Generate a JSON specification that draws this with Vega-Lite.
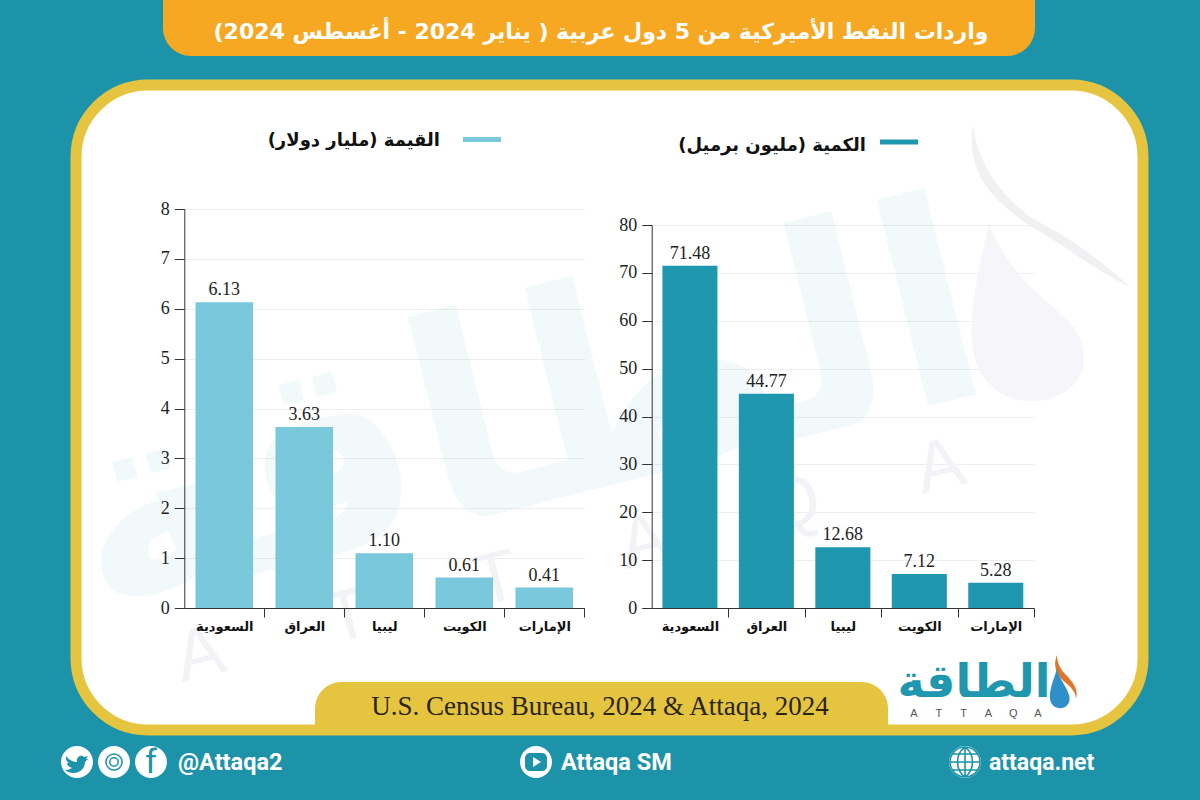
{
"$schema":"https://vega.github.io/schema/vega-lite/v6.json",
"autosize":{"type":"none"},
"width":1067,"height":645,
"padding":{"left":76,"top":85,"right":57,"bottom":70},
"background":"#1D93A9",
"view":{"fill":"#ffffff","stroke":"#E5C440","strokeWidth":11,"cornerRadius":72},
"config":{"view":{"fill":"#ffffff","stroke":"#E5C440","strokeWidth":11,"cornerRadius":72}},
"resolve":{"scale":{"x":"independent","y":"independent","color":"independent","shape":"independent"},"axis":{"x":"independent","y":"independent"}},
"layer":[
{"data":{"values":[{"id":"t"}]},
 "mark":{"type":"rect","width":872,"height":56,"fill":"#F7A823","cornerRadiusBottomLeft":28,"cornerRadiusBottomRight":28},
 "encoding":{"x":{"field":"id","type":"nominal","axis":null,"scale":{"type":"point","domain":["t"],"range":[523,523]}},
 "y":{"field":"id","type":"nominal","axis":null,"scale":{"type":"point","domain":["t"],"range":[-57,-57]}}}},
{"data":{"values":[{"chartTitle":"واردات النفط الأميركية من 5 دول عربية ( يناير 2024 - أغسطس 2024)‏"}]},
 "mark":{"type":"text","font":"DejaVu Sans","fontWeight":"bold","fontSize":22,"color":"#ffffff","align":"center","baseline":"middle"},
 "encoding":{"text":{"field":"chartTitle"},"x":{"field":"chartTitle","type":"nominal","axis":null,"scale":{"range":[525,525]}},
 "y":{"field":"chartTitle","type":"nominal","axis":null,"scale":{"range":[-53,-53]}}}},
{"data":{"values":[{"word":"الطاقة"}]},
 "mark":{"type":"text","font":"DejaVu Sans","fontWeight":"bold","fontSize":280,"angle":-14,"color":"#1D93A9","opacity":0.05,"align":"center","baseline":"middle"},
 "encoding":{"text":{"field":"word"},"x":{"field":"word","type":"nominal","axis":null,"scale":{"domain":["الطاقة"],"range":[450,450]}},
 "y":{"field":"word","type":"nominal","axis":null,"scale":{"domain":["الطاقة"],"range":[335,335]}}}},
{"data":{"values":[{"id":"a1","letter":"A"},{"id":"t1","letter":"T"},{"id":"t2","letter":"T"},{"id":"a2","letter":"A"},{"id":"q","letter":"Q"},{"id":"a3","letter":"A"}]},
 "mark":{"type":"text","font":"Liberation Sans","fontSize":72,"angle":-14,"color":"#f2f3f6","align":"center","baseline":"middle"},
 "encoding":{"text":{"field":"letter"},"x":{"field":"id","type":"nominal","axis":null,"scale":{"domain":["a1","t1","t2","a2","q","a3"],"padding":0,"range":[124,864]}},
 "y":{"field":"id","type":"nominal","axis":null,"scale":{"domain":["a1","t1","t2","a2","q","a3"],"padding":0,"range":[570,382]}}}},
{"data":{"values":[{"id":"swoosh"}]},
 "mark":{"type":"point","filled":true,"size":4,"strokeWidth":0,"color":"#f1f1f4","opacity":1,"shape":"M-62,-90 C-70,-40 -40,-10 10,20 C40,38 60,55 95,72 C60,40 30,20 0,5 C-30,-15 -58,-50 -62,-90 Z"},
 "encoding":{"x":{"field":"id","type":"nominal","axis":null,"scale":{"domain":["swoosh"],"range":[959,959]}},
 "y":{"field":"id","type":"nominal","axis":null,"scale":{"domain":["swoosh"],"range":[130,130]}}}},
{"data":{"values":[{"id":"drop"}]},
 "mark":{"type":"point","filled":true,"size":4,"strokeWidth":0,"color":"#f5f5fa","opacity":1,"shape":"M-42,-100 C-56,-40 -66,10 -54,40 C-42,75 0,86 30,70 C62,53 60,15 30,-10 C0,-35 -27,-60 -42,-100 Z"},
 "encoding":{"x":{"field":"id","type":"nominal","axis":null,"scale":{"domain":["drop"],"range":[955,955]}},
 "y":{"field":"id","type":"nominal","axis":null,"scale":{"domain":["drop"],"range":[239,239]}}}},
{"data":{"values":[{"series":"القيمة"},{"series":"الكمية"}]},
 "mark":{"type":"rect","width":38,"height":5},
 "encoding":{"x":{"field":"series","type":"nominal","axis":null,"scale":{"type":"point","padding":0,"domain":["القيمة","الكمية"],"range":[406,823]}},
 "y":{"field":"series","type":"nominal","axis":null,"scale":{"type":"point","padding":0,"domain":["القيمة","الكمية"],"range":[54.5,57]}},
 "color":{"field":"series","type":"nominal","legend":null,"scale":{"domain":["القيمة","الكمية"],"range":["#79C8DB","#1F97AE"]}}}},
{"data":{"values":[{"series":"القيمة","label":"القيمة (مليار دولار)‏"},{"series":"الكمية","label":"الكمية (مليون برميل)‏"}]},
 "mark":{"type":"text","font":"DejaVu Sans","fontWeight":"bold","fontSize":18,"color":"#111111","align":"right","baseline":"middle"},
 "encoding":{"text":{"field":"label"},"x":{"field":"series","type":"nominal","axis":null,"scale":{"padding":0,"domain":["القيمة","الكمية"],"range":[364,790]}},
 "y":{"field":"series","type":"nominal","axis":null,"scale":{"padding":0,"domain":["القيمة","الكمية"],"range":[56,61]}}}},
{"data":{"values":[{"country":"السعودية","value":6.13},{"country":"العراق","value":3.63},{"country":"ليبيا","value":1.10},{"country":"الكويت","value":0.61},{"country":"الإمارات","value":0.41}]},
 "mark":{"type":"bar","fillOpacity":0},
 "encoding":{
  "x":{"field":"country","type":"nominal","sort":null,"axis":null,"scale":{"type":"band","domain":["السعودية","العراق","ليبيا","الكويت","الإمارات"],"range":[108.3,508.3]}},
  "y":{"field":"value","type":"quantitative","title":null,"scale":{"domain":[0,8],"range":[523,124],"nice":false},
   "axis":{"orient":"left","zindex":0,"values":[0,1,2,3,4,5,6,7,8],"labels":false,"ticks":false,"domain":false,"grid":true,"gridColor":"#eeeeee"}}}},
{"data":{"values":[{"country":"السعودية","value":71.48},{"country":"العراق","value":44.77},{"country":"ليبيا","value":12.68},{"country":"الكويت","value":7.12},{"country":"الإمارات","value":5.28}]},
 "mark":{"type":"bar","fillOpacity":0},
 "encoding":{
  "x":{"field":"country","type":"nominal","sort":null,"axis":null,"scale":{"type":"band","domain":["السعودية","العراق","ليبيا","الكويت","الإمارات"],"range":[575.7,958]}},
  "y":{"field":"value","type":"quantitative","title":null,"scale":{"domain":[0,80],"range":[523,140],"nice":false},
   "axis":{"orient":"left","zindex":0,"values":[0,10,20,30,40,50,60,70,80],"labels":false,"ticks":false,"domain":false,"grid":true,"gridColor":"#eeeeee"}}}},
{"data":{"values":[{"country":"السعودية","value":6.13},{"country":"العراق","value":3.63},{"country":"ليبيا","value":1.10},{"country":"الكويت","value":0.61},{"country":"الإمارات","value":0.41}]},
 "encoding":{
  "x":{"field":"country","type":"nominal","sort":null,"title":null,"scale":{"type":"band","domain":["السعودية","العراق","ليبيا","الكويت","الإمارات"],"paddingInner":0.28,"paddingOuter":0.14,"range":[108.3,508.3]},
   "axis":{"orient":"bottom","offset":-122,"zindex":1,"labelAngle":0,"labelFont":"DejaVu Sans","labelFontWeight":"bold","labelFontSize":13,"labelColor":"#111111","labelPadding":3,"labelOffset":-11.2,"tickSize":9,"tickColor":"#333333","domainColor":"#333333","grid":false,"bandPosition":1,"tickOffset":11.2}},
  "y":{"field":"value","type":"quantitative","title":null,"scale":{"domain":[0,8],"range":[523,124],"nice":false},
   "axis":{"orient":"left","offset":-108.3,"zindex":1,"values":[0,1,2,3,4,5,6,7,8],"labelFont":"Liberation Serif","labelFontSize":18,"labelColor":"#222222","labelPadding":5,"tickSize":10,"tickColor":"#333333","domainColor":"#333333","grid":false}}},
 "layer":[
  {"mark":{"type":"bar","color":"#79C8DB"}},
  {"mark":{"type":"text","font":"Liberation Serif","fontSize":18,"color":"#222222","baseline":"alphabetic","dy":-7},"encoding":{"text":{"field":"value","format":".2f"}}}
 ]},
{"data":{"values":[{"country":"السعودية","value":71.48},{"country":"العراق","value":44.77},{"country":"ليبيا","value":12.68},{"country":"الكويت","value":7.12},{"country":"الإمارات","value":5.28}]},
 "encoding":{
  "x":{"field":"country","type":"nominal","sort":null,"title":null,"scale":{"type":"band","domain":["السعودية","العراق","ليبيا","الكويت","الإمارات"],"paddingInner":0.28,"paddingOuter":0.14,"range":[575.7,958]},
   "axis":{"orient":"bottom","offset":-122,"zindex":1,"labelAngle":0,"labelFont":"DejaVu Sans","labelFontWeight":"bold","labelFontSize":13,"labelColor":"#111111","labelPadding":3,"labelOffset":-10.7,"tickSize":9,"tickColor":"#333333","domainColor":"#333333","grid":false,"bandPosition":1,"tickOffset":10.7}},
  "y":{"field":"value","type":"quantitative","title":null,"scale":{"domain":[0,80],"range":[523,140],"nice":false},
   "axis":{"orient":"left","offset":-575.7,"zindex":1,"values":[0,10,20,30,40,50,60,70,80],"labelFont":"Liberation Serif","labelFontSize":18,"labelColor":"#222222","labelPadding":5,"tickSize":10,"tickColor":"#333333","domainColor":"#333333","grid":false}}},
 "layer":[
  {"mark":{"type":"bar","color":"#1F97AE"}},
  {"mark":{"type":"text","font":"Liberation Serif","fontSize":18,"color":"#222222","baseline":"alphabetic","dy":-7},"encoding":{"text":{"field":"value","format":".2f"}}}
 ]},
{"data":{"values":[{"id":"s"}]},
 "mark":{"type":"rect","width":573,"height":53,"fill":"#E5C440","cornerRadiusTopLeft":38,"cornerRadiusTopRight":38},
 "encoding":{"x":{"field":"id","type":"nominal","axis":null,"scale":{"type":"point","domain":["s"],"range":[525.5,525.5]}},
 "y":{"field":"id","type":"nominal","axis":null,"scale":{"type":"point","domain":["s"],"range":[623.5,623.5]}}}},
{"data":{"values":[{"source":"U.S. Census Bureau, 2024 & Attaqa, 2024"}]},
 "mark":{"type":"text","font":"Liberation Serif","fontSize":27,"color":"#2a2415","align":"center","baseline":"middle"},
 "encoding":{"text":{"field":"source"},"x":{"field":"source","type":"nominal","axis":null,"scale":{"range":[524,524]}},
 "y":{"field":"source","type":"nominal","axis":null,"scale":{"range":[622,622]}}}},
{"data":{"values":[{"word":"الطاقة"}]},
 "mark":{"type":"text","font":"DejaVu Sans","fontWeight":"bold","fontSize":46,"color":"#1F97AE","align":"center","baseline":"middle"},
 "encoding":{"text":{"field":"word"},"x":{"field":"word","type":"nominal","axis":null,"scale":{"range":[898,898]}},
 "y":{"field":"word","type":"nominal","axis":null,"scale":{"range":[598,598]}}}},
{"data":{"values":[{"id":"a1","letter":"A"},{"id":"t1","letter":"T"},{"id":"t2","letter":"T"},{"id":"a2","letter":"A"},{"id":"q","letter":"Q"},{"id":"a3","letter":"A"}]},
 "mark":{"type":"text","font":"Liberation Sans","fontSize":11,"color":"#555555","align":"center","baseline":"middle"},
 "encoding":{"text":{"field":"letter"},"x":{"field":"id","type":"nominal","axis":null,"scale":{"padding":0,"domain":["a1","t1","t2","a2","q","a3"],"range":[838,962]}},
 "y":{"field":"id","type":"nominal","axis":null,"scale":{"padding":0,"domain":["a1","t1","t2","a2","q","a3"],"range":[629,629]}}}},
{"data":{"values":[{"id":"stripe"}]},
 "mark":{"type":"point","filled":true,"size":4,"strokeWidth":0,"opacity":1,"color":"#E0762A","shape":"M-7,-30 C-12,-18 -6,-8 2,-2 C8,3 12,8 12,14 C15,4 8,-4 2,-10 C-3,-15 -7,-22 -7,-30 Z"},
 "encoding":{"x":{"field":"id","type":"nominal","axis":null,"scale":{"range":[988,988]}},
 "y":{"field":"id","type":"nominal","axis":null,"scale":{"range":[600,600]}}}},
{"data":{"values":[{"id":"logoDrop"}]},
 "mark":{"type":"point","filled":true,"size":4,"strokeWidth":0,"opacity":1,"color":"#2E8FC9","shape":"M-4,-22 C-8,-10 -12,0 -11,8 C-10,15 -4,18 1,17 C7,16 10,10 8,4 C6,-4 -2,-12 -4,-22 Z"},
 "encoding":{"x":{"field":"id","type":"nominal","axis":null,"scale":{"range":[985,985]}},
 "y":{"field":"id","type":"nominal","axis":null,"scale":{"range":[606,606]}}}},
{"data":{"values":[{"id":"tw"},{"id":"ig"},{"id":"fb"}]},
 "mark":{"type":"point","filled":true,"size":1018,"strokeWidth":0,"opacity":1,"color":"#ffffff","shape":"circle"},
 "encoding":{"x":{"field":"id","type":"nominal","axis":null,"scale":{"padding":0,"domain":["tw","ig","fb"],"range":[1,75]}},
 "y":{"field":"id","type":"nominal","axis":null,"scale":{"padding":0,"domain":["tw","ig","fb"],"range":[677,677]}}}},
{"data":{"values":[{"id":"yt"},{"id":"web"}]},
 "mark":{"type":"point","filled":true,"size":1018,"strokeWidth":0,"opacity":1,"color":"#ffffff","shape":"circle"},
 "encoding":{"x":{"field":"id","type":"nominal","axis":null,"scale":{"padding":0,"domain":["yt","web"],"range":[460,889]}},
 "y":{"field":"id","type":"nominal","axis":null,"scale":{"padding":0,"domain":["yt","web"],"range":[677,677]}}}},
{"data":{"values":[{"id":"bird"}]},
 "mark":{"type":"point","filled":true,"size":4,"strokeWidth":0,"opacity":1,"color":"#1D93A9","shape":"M-11,-6 C-8,-2 -4,0 0,0 C-1,-5 4,-8 7,-5 L11,-6 L9,-3 L11,-3 L8,0 C8,7 2,11 -3,11 C-7,11 -10,10 -12,8 C-9,8 -7,7 -5,6 C-8,5 -10,3 -10,1 L-8,1 C-10,0 -11,-2 -11,-4 Z"},
 "encoding":{"x":{"field":"id","type":"nominal","axis":null,"scale":{"range":[1,1]}},
 "y":{"field":"id","type":"nominal","axis":null,"scale":{"range":[677,677]}}}},
{"data":{"values":[{"id":"ring"}]},
 "mark":{"type":"point","filled":false,"size":260,"strokeWidth":1.5,"opacity":1,"color":"#1D93A9","shape":"circle"},
 "encoding":{"x":{"field":"id","type":"nominal","axis":null,"scale":{"range":[38,38]}},
 "y":{"field":"id","type":"nominal","axis":null,"scale":{"range":[677,677]}}}},
{"data":{"values":[{"id":"ring2"}]},
 "mark":{"type":"point","filled":false,"size":70,"strokeWidth":1.5,"opacity":1,"color":"#1D93A9","shape":"circle"},
 "encoding":{"x":{"field":"id","type":"nominal","axis":null,"scale":{"range":[38,38]}},
 "y":{"field":"id","type":"nominal","axis":null,"scale":{"range":[677,677]}}}},
{"data":{"values":[{"glyph":"f"}]},
 "mark":{"type":"text","font":"Roboto","fontSize":34,"color":"#1D93A9","align":"center","baseline":"middle"},
 "encoding":{"text":{"field":"glyph"},"x":{"field":"glyph","type":"nominal","axis":null,"scale":{"range":[75,75]}},
 "y":{"field":"glyph","type":"nominal","axis":null,"scale":{"range":[678,678]}}}},
{"data":{"values":[{"id":"ytbox"}]},
 "mark":{"type":"rect","width":22,"height":18,"fill":"#1D93A9","cornerRadius":5},
 "encoding":{"x":{"field":"id","type":"nominal","axis":null,"scale":{"type":"point","range":[460,460]}},
 "y":{"field":"id","type":"nominal","axis":null,"scale":{"type":"point","range":[677,677]}}}},
{"data":{"values":[{"id":"play"}]},
 "mark":{"type":"point","filled":true,"size":4,"strokeWidth":0,"opacity":1,"color":"#ffffff","shape":"M-3,-5 L5,0 L-3,5 Z"},
 "encoding":{"x":{"field":"id","type":"nominal","axis":null,"scale":{"range":[460,460]}},
 "y":{"field":"id","type":"nominal","axis":null,"scale":{"range":[677,677]}}}},
{"data":{"values":[{"id":"globe"}]},
 "mark":{"type":"point","filled":false,"size":4,"strokeWidth":1.6,"opacity":1,"color":"#1D93A9","shape":"M-15,0 L15,0 M0,-15 L0,15 M-13,-8 L13,-8 M-13,8 L13,8 M0,-15 C-10,-8 -10,8 0,15 M0,-15 C10,-8 10,8 0,15 M-15,0 A15,15 0 1 1 15,0 A15,15 0 1 1 -15,0"},
 "encoding":{"x":{"field":"id","type":"nominal","axis":null,"scale":{"range":[889,889]}},
 "y":{"field":"id","type":"nominal","axis":null,"scale":{"range":[677,677]}}}},
{"data":{"values":[{"handle":"@Attaqa2"}]},
 "mark":{"type":"text","font":"Roboto","fontWeight":"bold","fontSize":23.5,"color":"#ffffff","align":"left","baseline":"middle"},
 "encoding":{"text":{"field":"handle"},"x":{"field":"handle","type":"nominal","axis":null,"scale":{"range":[102,102]}},
 "y":{"field":"handle","type":"nominal","axis":null,"scale":{"range":[678,678]}}}},
{"data":{"values":[{"handle":"Attaqa SM"}]},
 "mark":{"type":"text","font":"Roboto","fontWeight":"bold","fontSize":23.5,"color":"#ffffff","align":"left","baseline":"middle"},
 "encoding":{"text":{"field":"handle"},"x":{"field":"handle","type":"nominal","axis":null,"scale":{"range":[485,485]}},
 "y":{"field":"handle","type":"nominal","axis":null,"scale":{"range":[678,678]}}}},
{"data":{"values":[{"handle":"attaqa.net"}]},
 "mark":{"type":"text","font":"Roboto","fontWeight":"bold","fontSize":23,"color":"#ffffff","align":"left","baseline":"middle"},
 "encoding":{"text":{"field":"handle"},"x":{"field":"handle","type":"nominal","axis":null,"scale":{"range":[913,913]}},
 "y":{"field":"handle","type":"nominal","axis":null,"scale":{"range":[678,678]}}}}
]
}
